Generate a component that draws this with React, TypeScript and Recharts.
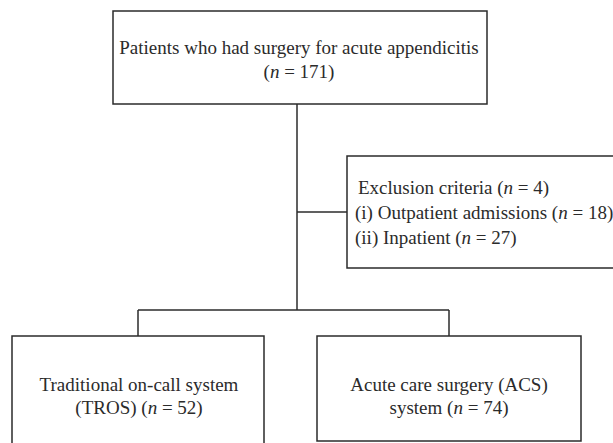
import {ComposedChart, XAxis, YAxis, Scatter, ReferenceArea, ReferenceLine} from "recharts"

// flowchart content
const nodeLabels = ["Patients who had surgery for acute appendicitis", "Exclusion criteria", "Traditional on-call system", "Acute care surgery (ACS)"]
const nodeCounts = [171, 4, 52, 74]
const exclusionReasons = [" (i) Outpatient admissions", "(ii) Inpatient"]
const exclusionCounts = [18, 27]

// text lines: pre text, then optional "(n = count)"
const textLines = [
    {pre: nodeLabels[0], n: null},
    {pre: "", n: nodeCounts[0]},
    {pre: nodeLabels[1] + " ", n: nodeCounts[1]},
    {pre: exclusionReasons[0] + " ", n: exclusionCounts[0]},
    {pre: exclusionReasons[1] + " ", n: exclusionCounts[1]},
    {pre: nodeLabels[2], n: null},
    {pre: "(TROS) ", n: nodeCounts[2]},
    {pre: nodeLabels[3], n: null},
    {pre: "system ", n: nodeCounts[3]},
]

// layout (pixel-like coordinate space 613 x 443)
const textPos = [
    {x: 299, y: 54, anchor: "middle"},
    {x: 299, y: 78, anchor: "middle"},
    {x: 358, y: 194, anchor: "start"},
    {x: 355, y: 219, anchor: "start"},
    {x: 355, y: 244, anchor: "start"},
    {x: 139, y: 391, anchor: "middle"},
    {x: 139, y: 414, anchor: "middle"},
    {x: 449, y: 391, anchor: "middle"},
    {x: 449, y: 414, anchor: "middle"},
]

const boxes = [
    {x1: 113, x2: 487, y1: 11, y2: 104},
    {x1: 347, x2: 630, y1: 156, y2: 268},
    {x1: 12, x2: 264, y1: 336, y2: 450},
    {x1: 317, x2: 581, y1: 336, y2: 441},
]

const connectors = [
    [{x: 297, y: 104}, {x: 297, y: 310}],
    [{x: 297, y: 212}, {x: 347, y: 212}],
    [{x: 138, y: 310}, {x: 449, y: 310}],
    [{x: 138, y: 310}, {x: 138, y: 336}],
    [{x: 449, y: 310}, {x: 449, y: 336}],
]

const textData = textLines.map((t, i) => ({...t, ...textPos[i]}))

const INK = "#2b2b2b"
const FONT = "'Liberation Serif', serif"

function TextLine(props: any) {
    const {cx, cy, payload} = props
    return (
        <text x={cx} y={cy} textAnchor={payload.anchor} fontFamily={FONT} fontSize={19} fill={INK}>
            {payload.pre}
            {payload.n !== null && <tspan>(<tspan fontStyle="italic">n</tspan> = {payload.n})</tspan>}
        </text>
    )
}

export default function App() {
    return (
        <div style={{position: "fixed", left: 0, top: 0, background: "#fff"}}>
            <ComposedChart width={613} height={443} margin={{top: 0, right: 0, bottom: 0, left: 0}}>
                <XAxis type="number" dataKey="x" domain={[0, 613]} hide allowDataOverflow />
                <YAxis type="number" dataKey="y" domain={[0, 443]} reversed hide allowDataOverflow />
                {connectors.map((seg, i) => (
                    <ReferenceLine key={"c" + i} segment={seg} stroke={INK} strokeWidth={1.5} ifOverflow="visible" />
                ))}
                {boxes.map((b, i) => (
                    <ReferenceArea key={"b" + i} x1={b.x1} x2={b.x2} y1={b.y1} y2={b.y2} fill="#fff" fillOpacity={1}
                        stroke={INK} strokeWidth={1.5} ifOverflow="visible" />
                ))}
                <Scatter data={textData} shape={<TextLine />} isAnimationActive={false} />
            </ComposedChart>
        </div>
    )
}
